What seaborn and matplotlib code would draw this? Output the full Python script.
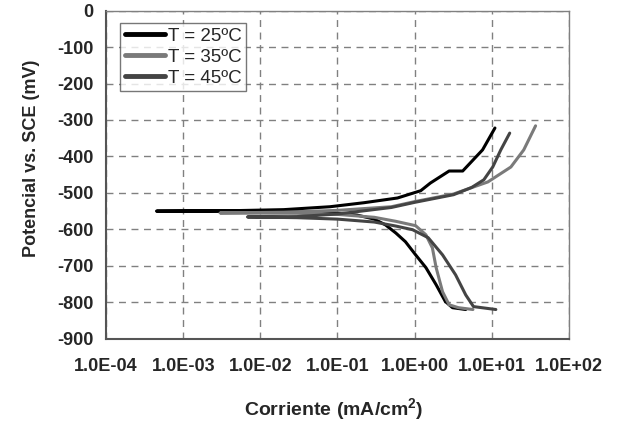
import numpy as np
import pandas as pd
import matplotlib
matplotlib.use("Agg")
import matplotlib.pyplot as plt
from matplotlib.ticker import FuncFormatter, FixedLocator, NullLocator
import seaborn as sns

# Polarization curves: current density (mA/cm2) and potential (mV vs. SCE),
# each listed from the cathodic end through Ecorr to the anodic end.
i_25 = [4.6, 3.1, 2.5, 1.9, 1.4, 1.03, 0.76, 0.57, 0.42, 0.30, 0.18, 0.08, 0.02,
        0.004, 0.00045, 0.004, 0.02, 0.08, 0.22, 0.60, 1.2, 1.6, 2.8, 4.2, 7.6, 11.0]
e_25 = [-820, -815, -798, -752, -705, -670, -634, -610, -588, -572, -561, -554, -551,
        -550, -550, -549, -546, -538, -527, -514, -494, -473, -440, -440, -382, -322]

i_35 = [5.7, 3.7, 2.8, 2.3, 1.9, 1.7, 1.4, 1.03, 0.57, 0.30, 0.10, 0.03, 0.003,
        0.02, 0.10, 0.50, 1.0, 3.2, 8.9, 17.7, 26.0, 37.0]
e_35 = [-820, -815, -807, -771, -705, -651, -615, -590, -578, -567, -559, -556, -555,
        -553, -548, -538, -524, -503, -470, -429, -382, -316]

i_45 = [11.3, 5.8, 4.6, 3.4, 2.3, 1.5, 0.94, 0.57, 0.30, 0.10, 0.03, 0.0068,
        0.03, 0.10, 0.50, 1.0, 3.2, 5.5, 7.9, 10.3, 13.1, 17.1]
e_45 = [-820, -812, -780, -725, -670, -623, -601, -591, -580, -572, -568, -566,
        -565, -558, -540, -526, -505, -485, -464, -429, -382, -336]

series_labels = ["T = 25ºC", "T = 35ºC", "T = 45ºC"]
x_ticks = [1e-4, 1e-3, 1e-2, 1e-1, 1e0, 1e1, 1e2]
y_ticks = list(range(-900, 1, 100))

frames = []
for lab, cur, pot in zip(series_labels, [i_25, i_35, i_45], [e_25, e_35, e_45]):
    frames.append(pd.DataFrame({"Corriente": cur, "Potencial": pot, "T": lab,
                                "orden": np.arange(len(cur))}))
data = pd.concat(frames, ignore_index=True)

sns.set_style("white")
plt.rcParams["font.family"] = ["Liberation Sans", "DejaVu Sans"]
plt.rcParams["mathtext.fontset"] = "custom"
plt.rcParams["mathtext.rm"] = "Liberation Sans"
plt.rcParams["mathtext.bf"] = "Liberation Sans:bold"

fig = plt.figure(figsize=(6.17, 4.26), dpi=100)
ax = fig.add_axes([0.172, 0.205, 0.750, 0.770])

palette = {"T = 25ºC": "#000000", "T = 35ºC": "#7a7a7a", "T = 45ºC": "#444444"}
sns.lineplot(data=data, x="Corriente", y="Potencial", hue="T", hue_order=series_labels,
             palette=palette, units="T", estimator=None, sort=False,
             linewidth=2.2, ax=ax, legend=True)

ax.set_xscale("log")
ax.set_xlim(1e-4, 1e2)
ax.set_ylim(-900, 0)
ax.xaxis.set_major_locator(FixedLocator(x_ticks))
ax.xaxis.set_minor_locator(NullLocator())
ax.yaxis.set_major_locator(FixedLocator(y_ticks))
ax.xaxis.set_major_formatter(FuncFormatter(lambda v, p: f"{v:.1E}"))
ax.yaxis.set_major_formatter(FuncFormatter(lambda v, p: f"{int(round(v))}"))

ax.grid(True, which="major", color="#808080", linestyle=(0, (5, 4)), linewidth=1.0)
for side in ["top", "right"]:
    ax.spines[side].set_visible(True)
    ax.spines[side].set_color("#808080")
    ax.spines[side].set_linewidth(1.0)
for side in ["left", "bottom"]:
    ax.spines[side].set_color("#555555")
    ax.spines[side].set_linewidth(1.5)

ax.tick_params(axis="both", which="major", direction="inout", length=6, width=1.0,
               color="#555555", labelsize=13, pad=6)
ax.tick_params(axis="x", pad=11)
for t in ax.get_xticklabels() + ax.get_yticklabels():
    t.set_fontweight("bold")

ax.set_xlabel(r"Corriente (mA/cm$^\mathbf{2}$)", fontsize=14, fontweight="bold")
ax.set_ylabel("Potencial vs. SCE (mV)", fontsize=13, fontweight="bold")
ax.xaxis.set_label_coords(0.492, -0.175)
ax.yaxis.set_label_coords(-0.143, 0.551)

leg = ax.legend(loc="upper left", bbox_to_anchor=(0.030, 0.962), frameon=True,
                fancybox=False, edgecolor="#555555", fontsize=13.5, handlelength=2.15,
                handletextpad=0.15, labelspacing=0.2, borderpad=0.25, borderaxespad=0)
leg.get_frame().set_linewidth(1.0)
for line in leg.get_lines():
    line.set_linewidth(3.5)

fig.savefig("out.png", dpi=100)
